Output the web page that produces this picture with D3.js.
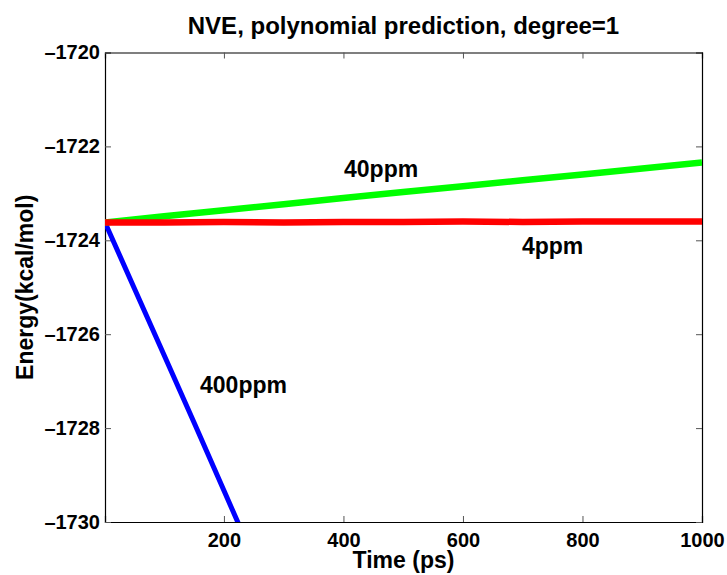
<!DOCTYPE html>
<html>
<head>
<meta charset="utf-8">
<script src="https://cdn.jsdelivr.net/npm/d3@7"></script>
<style>
  body { margin: 0; background: #fff; }
  svg text { font-family: "Liberation Sans", Arial, sans-serif; font-weight: bold; fill: #000; }
</style>
</head>
<body>
<div id="chart"></div>
<script>
// time axis (ps) and energies (kcal/mol)
var time400 = [1, 50, 100, 150, 200, 250];
var energy400 = [-1723.62, -1725.02, -1726.45, -1727.88, -1729.33, -1730.78];

var time40 = [1, 100, 200, 300, 400, 500, 600, 700, 800, 900, 1000];
var energy40 = [-1723.62, -1723.49, -1723.36, -1723.23, -1723.10, -1722.97, -1722.85, -1722.72, -1722.60, -1722.47, -1722.34];

var time4 = [1, 100, 200, 300, 400, 500, 600, 700, 800, 900, 1000];
var energy4 = [-1723.62, -1723.62, -1723.61, -1723.62, -1723.61, -1723.61, -1723.60, -1723.61, -1723.60, -1723.60, -1723.60];

var xTicks = [200, 400, 600, 800, 1000];
var yTicks = [-1720, -1722, -1724, -1726, -1728, -1730];

var seriesLabels = ['400ppm', '40ppm', '4ppm'];

(function () {
  var width = 727, height = 575;
  var margin = { top: 52.5, right: 25, bottom: 53, left: 105 };
  var w = width - margin.left - margin.right;
  var h = height - margin.top - margin.bottom;

  var svg = d3.select('#chart').append('svg')
    .attr('width', width)
    .attr('height', height);

  var x = d3.scaleLinear().domain([1, 1000]).range([0, w]);
  var y = d3.scaleLinear().domain([-1730, -1720]).range([h, 0]);

  var g = svg.append('g')
    .attr('transform', 'translate(' + margin.left + ',' + margin.top + ')');

  g.append('clipPath').attr('id', 'plotClip')
    .append('rect').attr('width', w).attr('height', h);

  var fmt = function (d) { return String(d).replace('-', '\u2013'); };

  // axes, matlab style ticks pointing inwards
  var tickLen = 6;
  var xBottom = g.append('g').attr('transform', 'translate(0,' + h + ')')
    .call(d3.axisBottom(x).tickValues(xTicks).tickSize(-tickLen).tickPadding(10).tickFormat(fmt));
  var xTop = g.append('g')
    .call(d3.axisTop(x).tickValues(xTicks).tickSize(-tickLen).tickFormat(''));
  var yLeft = g.append('g')
    .call(d3.axisLeft(y).tickValues(yTicks).tickSize(-tickLen).tickPadding(5).tickFormat(fmt));
  var yRight = g.append('g').attr('transform', 'translate(' + w + ',0)')
    .call(d3.axisRight(y).tickValues(yTicks).tickSize(-tickLen).tickFormat(''));

  [xBottom, xTop, yLeft, yRight].forEach(function (ax) {
    ax.select('.domain').attr('stroke', '#000').attr('stroke-width', 1.2);
    ax.selectAll('.tick line').attr('stroke', '#555').attr('stroke-width', 1);
    ax.selectAll('text').attr('font-size', 20).attr('font-family', '"Liberation Sans", Arial, sans-serif');
  });
  xBottom.selectAll('text').attr('dy', null).attr('y', 25);
  yLeft.selectAll('text').attr('x', -5);

  var line = d3.line()
    .x(function (d) { return x(d[0]); })
    .y(function (d) { return y(d[1]); });

  var series = [
    { t: time400, e: energy400, color: '#0000ff', sw: 5 },
    { t: time40, e: energy40, color: '#00ff00', sw: 6.5 },
    { t: time4, e: energy4, color: '#ff0000', sw: 6.5 }
  ];

  var plot = g.append('g').attr('clip-path', 'url(#plotClip)');
  series.forEach(function (s) {
    plot.append('path')
      .datum(d3.zip(s.t, s.e))
      .attr('d', line)
      .attr('fill', 'none')
      .attr('stroke', s.color)
      .attr('stroke-width', s.sw)
      .attr('stroke-linejoin', 'round');
  });

  // series annotations
  var labelPos = [
    { t: 160, e: -1727.25, anchor: 'start' },
    { t: 463, e: -1722.65, anchor: 'middle' },
    { t: 750, e: -1724.3, anchor: 'middle' }
  ];
  labelPos.forEach(function (p, i) {
    g.append('text')
      .attr('x', x(p.t))
      .attr('y', y(p.e))
      .attr('text-anchor', p.anchor)
      .attr('font-size', 23)
      .text(seriesLabels[i]);
  });

  // title and axis labels
  svg.append('text')
    .attr('x', margin.left + w / 2)
    .attr('y', 34)
    .attr('text-anchor', 'middle')
    .attr('font-size', 24)
    .text('NVE, polynomial prediction, degree=1');

  svg.append('text')
    .attr('x', margin.left + w / 2)
    .attr('y', 568)
    .attr('text-anchor', 'middle')
    .attr('font-size', 23)
    .text('Time (ps)');

  svg.append('text')
    .attr('transform', 'translate(33,' + (margin.top + h / 2) + ') rotate(-90)')
    .attr('text-anchor', 'middle')
    .attr('font-size', 23)
    .text('Energy(kcal/mol)');
})();
</script>
</body>
</html>
